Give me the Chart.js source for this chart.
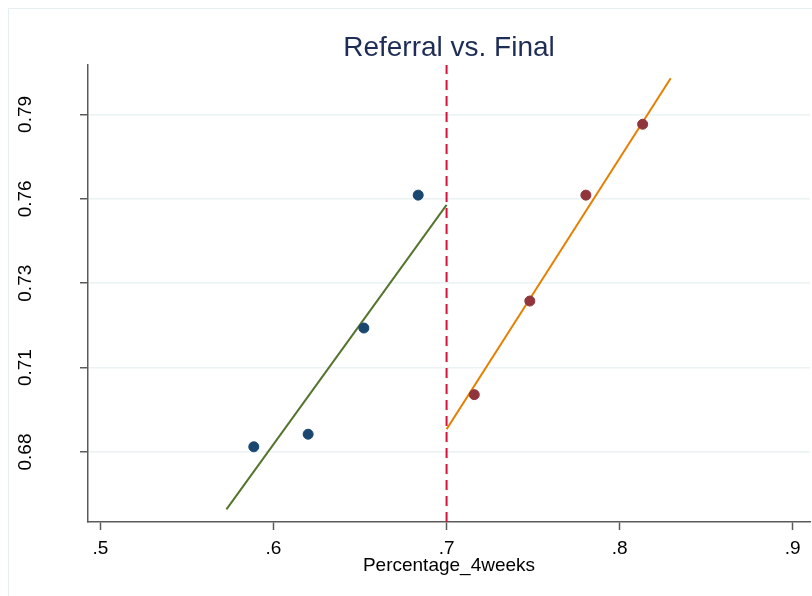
<!DOCTYPE html>
<html>
<head>
<meta charset="utf-8">
<script src="https://cdn.jsdelivr.net/npm/chart.js@4"></script>
<style>
  html, body { margin: 0; padding: 0; background: #fff; }
  #wrap { width: 812px; height: 596px; }
</style>
</head>
<body>
<div id="wrap"><canvas id="rd-chart" width="812" height="596"></canvas></div>
<script>
// values
const belowX = [0.5886, 0.620, 0.6522, 0.6836];
const belowY = [0.6817, 0.6858, 0.7204, 0.7637];
const aboveX = [0.716, 0.7481, 0.7805, 0.8133];
const aboveY = [0.6987, 0.7292, 0.7637, 0.7868];

const fitBelowX = [0.5728, 0.70];
const fitBelowY = [0.6613, 0.7605];
const fitAboveX = [0.70, 0.8295];
const fitAboveY = [0.6874, 0.8018];

const cutoff = 0.7;
const xRange = [0.4928, 0.910];
const yRange = [0.6572, 0.8061];

const xTicks = [0.5, 0.6, 0.7, 0.8, 0.9];
const xTickLabels = ['.5', '.6', '.7', '.8', '.9'];
const yTicks = [0.68, 0.7075, 0.735, 0.7625, 0.79];
const yTickLabels = ['0.68', '0.71', '0.73', '0.76', '0.79'];

const toPoints = (xs, ys) => xs.map((x, i) => ({ x: x, y: ys[i] }));

const FONT = '"Liberation Sans", Arial, Helvetica, sans-serif';
const AXIS = '#5a5a5a';

// light outline round the whole graph, as in the original
const outerFrame = {
  id: 'outerFrame',
  beforeDraw(chart) {
    const c = chart.ctx;
    c.save();
    c.fillStyle = '#fff';
    c.fillRect(0, 0, chart.width, chart.height);
    c.strokeStyle = '#e6eef0';
    c.lineWidth = 1;
    c.strokeRect(8.5, 8.5, chart.width, chart.height);
    c.restore();
  }
};

new Chart(document.getElementById('rd-chart'), {
  type: 'scatter',
  data: {
    datasets: [
      {
        type: 'line',
        data: [{ x: cutoff, y: yRange[0] }, { x: cutoff, y: yRange[1] }],
        borderColor: '#d2123c',
        borderWidth: 2,
        borderDash: [10, 6],
        pointRadius: 0,
        order: 0
      },
      {
        type: 'line',
        data: toPoints(fitBelowX, fitBelowY),
        borderColor: '#55752f',
        borderWidth: 2,
        pointRadius: 0,
        order: 2
      },
      {
        type: 'line',
        data: toPoints(fitAboveX, fitAboveY),
        borderColor: '#e67e00',
        borderWidth: 2,
        pointRadius: 0,
        order: 2
      },
      {
        data: toPoints(belowX, belowY),
        backgroundColor: '#1a476f',
        borderColor: '#1a476f',
        pointRadius: 5,
        order: 1
      },
      {
        data: toPoints(aboveX, aboveY),
        backgroundColor: '#90353b',
        borderColor: '#90353b',
        pointRadius: 5,
        order: 1
      }
    ]
  },
  options: {
    responsive: false,
    animation: false,
    layout: { autoPadding: false, padding: { left: 0, right: 2, top: 0, bottom: 0 } },
    plugins: {
      legend: { display: false },
      tooltip: { enabled: false },
      title: {
        display: true,
        text: 'Referral vs. Final',
        color: '#1e2d55',
        fullSize: false,
        font: { family: FONT, size: 28, weight: 'normal' },
        padding: { top: 31, bottom: 0.4 }
      }
    },
    scales: {
      x: {
        type: 'linear',
        min: xRange[0],
        max: xRange[1],
        afterBuildTicks: (s) => { s.ticks = xTicks.map(v => ({ value: v })); },
        afterFit: (s) => { s.height = 74; s.paddingLeft = 0; s.paddingRight = 0; },
        ticks: {
          callback: (v) => xTickLabels[xTicks.indexOf(v)],
          color: '#000',
          font: { family: FONT, size: 19 },
          padding: 7,
          maxRotation: 0
        },
        grid: { drawOnChartArea: false, tickLength: 8, tickColor: AXIS, tickWidth: 1.5 },
        border: { color: AXIS, width: 1.5 },
        title: {
          display: true,
          text: 'Percentage_4weeks',
          color: '#000',
          font: { family: FONT, size: 19 },
          padding: { top: 0, bottom: 19 }
        }
      },
      y: {
        type: 'linear',
        min: yRange[0],
        max: yRange[1],
        afterBuildTicks: (s) => { s.ticks = yTicks.map(v => ({ value: v })); },
        afterFit: (s) => { s.width = 88; },
        ticks: {
          callback: (v) => yTickLabels[yTicks.indexOf(v)],
          color: '#000',
          font: { family: FONT, size: 19 },
          minRotation: 90,
          maxRotation: 90,
          crossAlign: 'center',
          padding: 36
        },
        grid: { color: '#eaf2f3', lineWidth: 1.5, tickLength: 8, tickColor: AXIS, tickWidth: 1.5 },
        border: { color: AXIS, width: 1.5 }
      }
    }
  },
  plugins: [outerFrame]
});
</script>
</body>
</html>
